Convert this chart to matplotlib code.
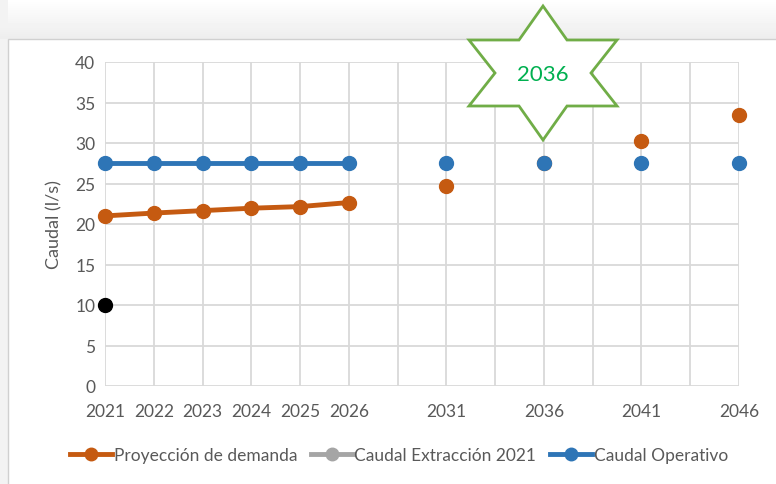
import numpy as np
import matplotlib.pyplot as plt
from matplotlib.lines import Line2D
from matplotlib.patches import Polygon, Rectangle

plt.rcParams['font.family'] = ['Lato', 'DejaVu Sans']

# category positions (Excel-style axis with blank slots between 5-year steps)
labels = ['2021', '2022', '2023', '2024', '2025', '2026', '',
          '2031', '', '2036', '', '2041', '', '2046']
nan = np.nan
demanda = [21.0, 21.35, 21.65, 21.95, 22.15, 22.65, nan,
           24.75, nan, 27.5, nan, 30.25, nan, 33.45]
extraccion = [10.0] + [nan] * 13
operativo = [27.5, 27.5, 27.5, 27.5, 27.5, 27.5, nan,
             27.5, nan, 27.5, nan, 27.5, nan, 27.5]

c_dem = '#C55A11'
c_ext = '#A5A5A5'
c_op = '#2E75B6'
txt = '#595959'

W, H = 776, 485
fig = plt.figure(figsize=(W / 100, H / 100), dpi=100)

# background: light window gradient with chart area frame
bg = fig.add_axes([0, 0, 1, 1])
grad = np.ones((H, W))
top = np.linspace(1.0, 0.93, 40)
grad[:40, :] = top[:, None]
grad[:, :8] = np.minimum(grad[:, :8], 0.95)
bg.imshow(grad, cmap='gray', vmin=0, vmax=1, extent=[0, W, H, 0], aspect='auto')
bg.add_patch(Rectangle((8, 40), W, H, facecolor='white', edgecolor='#D0D0D0', lw=1))
bg.set_xlim(0, W)
bg.set_ylim(H, 0)
bg.axis('off')

ax = fig.add_axes([105 / W, (H - 387) / H, 634 / W, 324 / H])
x = np.arange(len(labels))
ax.plot(x, demanda, color=c_dem, lw=3.5, marker='o', ms=10, clip_on=False, zorder=3)
ax.plot(x, operativo, color=c_op, lw=3.5, marker='o', ms=10, clip_on=False, zorder=4)
ax.plot(x, extraccion, color='black', lw=3.5, marker='o', ms=10, clip_on=False, zorder=5)

ax.set_xlim(0, len(labels) - 1)
ax.set_ylim(0, 40)
ax.set_yticks(range(0, 41, 5))
ax.set_xticks(x)
ax.set_xticklabels(labels)
ax.grid(True, color='#D9D9D9', lw=1.3)
ax.set_axisbelow(True)
for s in ax.spines.values():
    s.set_visible(False)
ax.tick_params(axis='x', length=0, labelsize=12.5, labelcolor=txt, pad=12)
ax.tick_params(axis='y', length=0, labelsize=12.5, labelcolor=txt, pad=7)
ax.set_ylabel('Caudal (l/s)', fontsize=13, color=txt, labelpad=9)

handles = [Line2D([], [], color=c, lw=3.5, marker='o', ms=9)
           for c in (c_dem, c_ext, c_op)]
fig.legend(handles, ['Proyección de demanda', 'Caudal Extracción 2021', 'Caudal Operativo'],
           loc='center', bbox_to_anchor=(399 / W, 1 - 456 / H), ncol=3, frameon=False,
           fontsize=12.5, labelcolor=txt, handlelength=2.4, handletextpad=0.1,
           columnspacing=0.8)

# star callout
cx, cy = 543, 74
pts = [(0, -67), (24, -33), (74, -33), (48, 0), (74, 33), (24, 33),
       (0, 67), (-24, 33), (-74, 33), (-48, 0), (-74, -33), (-24, -33)]
star = Polygon([(cx + px, cy + py) for px, py in pts], closed=True,
               facecolor='white', edgecolor='#70AD47', lw=2, zorder=10)
bg2 = fig.add_axes([0, 0, 1, 1])
bg2.set_xlim(0, W)
bg2.set_ylim(H, 0)
bg2.axis('off')
bg2.add_patch(star)
bg2.text(cx, cy + 1, '2036', color='#00B050', fontsize=16, ha='center', va='center', zorder=11)

fig.savefig('out.png', dpi=100)
